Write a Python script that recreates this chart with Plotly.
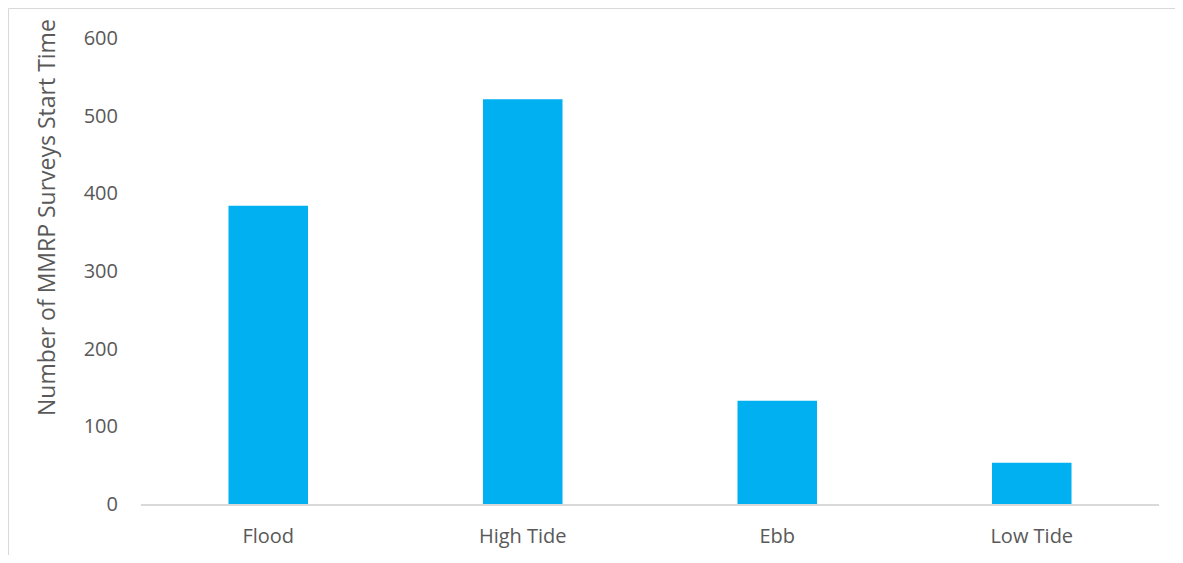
import plotly.graph_objects as go

categories = ["Flood", "High Tide", "Ebb", "Low Tide"]
counts = [384, 521, 133, 53]
y_ticks = [0, 100, 200, 300, 400, 500, 600]

# page is offset by the browser's default 8px body margin; keep figure inside viewport
OFF = 8
W, H = 1183 - 2 * OFF, 563 - 2 * OFF
L, T = 141 - OFF, 38 - OFF
R = W - (1159 - OFF)
B = H - (504 - OFF)
pw = W - L - R
ph = H - T - B

def px_x(p):
    return (p - OFF - L) / pw

def px_y(p):
    return (H - B - (p - OFF)) / ph

fig = go.Figure(go.Bar(
    x=categories, y=counts, marker=dict(color="#00B0F0", line=dict(width=0)),
    width=0.3125,
))

font = "Open Sans"
border = dict(color="#D9D9D9", width=1)
fig.update_layout(
    width=W, height=H,
    margin=dict(l=L, r=R, t=T, b=B, autoexpand=False),
    paper_bgcolor="white", plot_bgcolor="white",
    showlegend=False,
    font=dict(family=font, color="#595959", size=20),
    xaxis=dict(showgrid=False, showline=True, linecolor="#D9D9D9", linewidth=1.5,
               ticks="", ticklabelstandoff=13, tickfont=dict(size=20, color="#595959")),
    yaxis=dict(range=[0, 600], tickvals=y_ticks, showgrid=False, showline=False,
               zeroline=False, ticks="", ticklabelstandoff=22,
               tickfont=dict(size=20, color="#595959")),
    annotations=[dict(
        text="Number of MMRP Surveys Start Time", textangle=-90,
        xref="paper", yref="paper", x=px_x(46), y=px_y(218),
        showarrow=False, font=dict(size=23, color="#595959", family=font),
        xanchor="center", yanchor="middle",
    )],
    shapes=[
        dict(type="line", xref="paper", yref="paper",
             x0=px_x(8.5), x1=px_x(8.5), y0=px_y(600), y1=px_y(8.5), line=border, layer="below"),
        dict(type="line", xref="paper", yref="paper",
             x0=px_x(8.5), x1=px_x(1200), y0=px_y(8.5), y1=px_y(8.5), line=border, layer="below"),
    ],
)

fig.write_html("out.html")
